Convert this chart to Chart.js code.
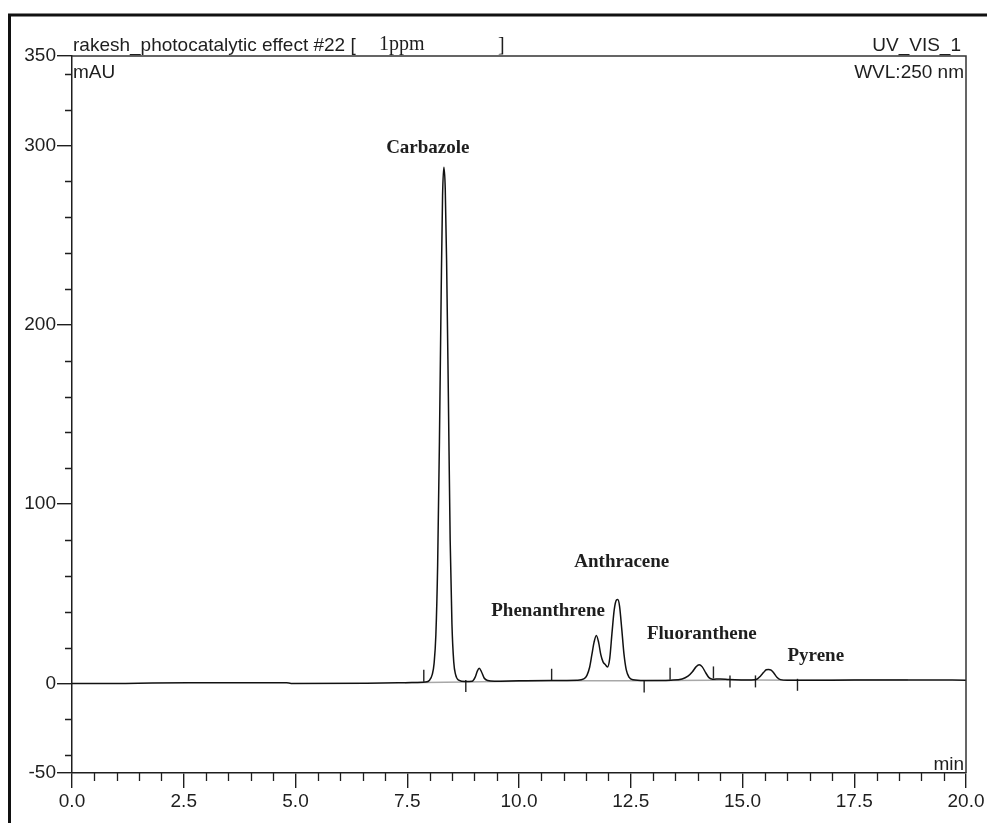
<!DOCTYPE html>
<html>
<head>
<meta charset="utf-8">
<script src="https://cdn.jsdelivr.net/npm/chart.js@4.4.1/dist/chart.umd.min.js"></script>
<style>
  html, body { margin: 0; padding: 0; background: #fff; }
  #c { display: block; }
</style>
</head>
<body>
<canvas id="c" width="987" height="823"></canvas>
<script>
// ---- data ----
const timeMin = [0.0, 1.0, 1.8, 2.6, 4.8, 4.9, 6.6, 7.3, 7.6, 7.9,
  8.00, 8.06, 8.10, 8.14, 8.18, 8.22, 8.26, 8.29, 8.32, 8.35, 8.38, 8.42, 8.46, 8.50, 8.54, 8.58, 8.65, 8.80,
  8.95, 9.02, 9.07, 9.11, 9.16, 9.22, 9.30, 9.45, 10.0, 10.7, 11.3,
  11.45, 11.52, 11.58, 11.63, 11.68, 11.73, 11.78, 11.83, 11.88, 11.93, 11.98,
  12.03, 12.08, 12.13, 12.18, 12.21, 12.25, 12.30, 12.35, 12.40, 12.46, 12.55, 12.8,
  13.4, 13.65, 13.78, 13.88, 13.96, 14.03, 14.10, 14.18, 14.25, 14.33, 14.5, 14.7,
  15.2, 15.32, 15.40, 15.47, 15.53, 15.58, 15.64, 15.70, 15.77, 15.85, 16.0,
  17.0, 18.0, 19.0, 20.0];
const absorbance = [0.0, 0.0, 0.2, 0.3, 0.3, 0.0, 0.1, 0.3, 0.5, 0.8,
  1.8, 5, 11, 27, 66, 135, 220, 272, 288, 276, 236, 160, 80, 33, 12, 5, 1.8, 1.0,
  1.2, 3.5, 7, 8.4, 6.5, 3, 1.6, 1.2, 1.4, 1.6, 1.8,
  2.5, 4.5, 9, 16, 23, 26.7, 23, 16, 12, 10.5, 9.2,
  14, 28, 41, 46.5, 46.8, 43, 30, 16, 7.5, 3.5, 2.0, 1.6,
  1.8, 2.4, 4, 6.5, 9.2, 10.4, 9.2, 5.8, 3.2, 2.3, 2.5, 2.2,
  1.9, 2.3, 4, 6, 7.6, 7.8, 7.4, 5.8, 3.4, 2.1, 1.8,
  1.8, 1.9, 1.9, 1.8];

// integration baseline (grey) and peak delimiter marks
const baseTime = [7.45, 7.87, 8.81, 10.73, 12.8, 13.38, 14.35, 14.72, 15.29, 16.23, 18.7];
const baseMAU  = [0.3, 0.5, 0.8, 1.4, 1.5, 1.6, 1.8, 1.9, 1.9, 1.8, 2.0];
const markTime = [7.87, 8.81, 10.73, 12.80, 13.38, 14.35, 14.72, 15.29, 16.23];
const markMAU  = [4.3, -1.5, 4.8, -1.7, 5.3, 6.1, 1.1, 1.1, -0.8];

// peak names and where they are written
const peakNames   = ['Carbazole', 'Phenanthrene', 'Anthracene', 'Fluoranthene', 'Pyrene'];
const peakLabelT  = [7.96, 10.65, 12.30, 14.09, 16.64];
const peakLabelY  = [298.6, 40.1, 67.4, 27.3, 15.0];

// axis ticks
const xMajorTicks = [0, 2.5, 5, 7.5, 10, 12.5, 15, 17.5, 20];
const yMajorTicks = [-50, 0, 100, 200, 300, 350];

const SANS = '"Liberation Sans", Arial, sans-serif';
const SERIF = '"Liberation Serif", "Times New Roman", serif';
const INK = '#1e1e1e';

const decor = {
  id: 'decor',
  beforeDraw(chart) {
    const ctx = chart.ctx;
    ctx.save();
    ctx.fillStyle = '#fff';
    ctx.fillRect(0, 0, chart.width, chart.height);
    // outer frame (top and left)
    ctx.strokeStyle = '#111';
    ctx.lineWidth = 3;
    ctx.beginPath();
    ctx.moveTo(8, 15); ctx.lineTo(chart.width, 15);
    ctx.moveTo(9.5, 15); ctx.lineTo(9.5, chart.height);
    ctx.stroke();
    ctx.restore();
  },
  afterDraw(chart) {
    const ctx = chart.ctx;
    const a = chart.chartArea;
    const xs = chart.scales.x, ys = chart.scales.y;
    ctx.save();
    // top and right frame of plot
    ctx.strokeStyle = '#333';
    ctx.lineWidth = 1.5;
    ctx.beginPath();
    ctx.moveTo(a.left, a.top); ctx.lineTo(a.right, a.top); ctx.lineTo(a.right, a.bottom);
    ctx.stroke();
    // minor ticks
    ctx.strokeStyle = INK;
    ctx.lineWidth = 1.3;
    ctx.beginPath();
    for (let v = 0.5; v < 20; v += 0.5) {
      if (Math.abs(v / 2.5 - Math.round(v / 2.5)) < 1e-6) continue;
      const px = Math.round(xs.getPixelForValue(v)) + 0.5;
      ctx.moveTo(px, a.bottom); ctx.lineTo(px, a.bottom + 8);
    }
    for (let v = -40; v < 350; v += 20) {
      if (v % 100 === 0) continue;
      const py = Math.round(ys.getPixelForValue(v)) + 0.5;
      ctx.moveTo(a.left, py); ctx.lineTo(a.left - 7, py);
    }
    ctx.stroke();
    // header texts
    ctx.fillStyle = INK;
    ctx.textBaseline = 'alphabetic';
    ctx.font = '19px ' + SANS;
    ctx.textAlign = 'left';
    ctx.fillText('rakesh_photocatalytic effect #22 [', a.left + 1, a.top - 5);
    ctx.fillText('mAU', a.left + 1, a.top + 22);
    ctx.font = '20px ' + SERIF;
    ctx.fillText('1ppm', a.left + 307, a.top - 6);
    ctx.fillText(']', a.left + 426, a.top - 5);
    ctx.font = '19px ' + SANS;
    ctx.textAlign = 'right';
    ctx.fillText('UV_VIS_1', a.right - 5, a.top - 5);
    ctx.fillText('WVL:250 nm', a.right - 2, a.top + 22);
    ctx.fillText('min', a.right - 2, a.bottom - 3);
    // peak names
    ctx.font = 'bold 19px ' + SERIF;
    ctx.textAlign = 'center';
    ctx.textBaseline = 'middle';
    peakNames.forEach((n, i) => {
      ctx.fillText(n, xs.getPixelForValue(peakLabelT[i]), ys.getPixelForValue(peakLabelY[i]));
    });
    ctx.restore();
  }
};

const trace = timeMin.map((t, i) => ({ x: t, y: absorbance[i] }));
const baseLine = baseTime.map((t, i) => ({ x: t, y: baseMAU[i] }));
const marks = markTime.map((t, i) => ({ x: t, y: markMAU[i] }));

new Chart(document.getElementById('c'), {
  type: 'line',
  data: {
    datasets: [
      { data: trace, borderColor: '#111', borderWidth: 1.5, pointRadius: 0,
        cubicInterpolationMode: 'monotone', fill: false },
      { data: marks, showLine: false, pointStyle: 'line', rotation: 90, pointRadius: 6,
        borderColor: '#222', borderWidth: 1.4, pointBorderColor: '#222', pointBorderWidth: 1.4 },
      { data: baseLine, borderColor: '#a8a8a8', borderWidth: 1.5, pointRadius: 0, fill: false }
    ]
  },
  options: {
    responsive: false,
    animation: false,
    devicePixelRatio: 1,
    layout: { padding: { left: 0, top: 56, right: 21, bottom: 0 } },
    plugins: { legend: { display: false }, tooltip: { enabled: false } },
    scales: {
      x: {
        type: 'linear', position: 'bottom', min: 0, max: 20,
        border: { display: true, color: INK, width: 1.5 },
        grid: { drawOnChartArea: false, drawTicks: true, tickLength: 15, color: INK, lineWidth: 1.4 },
        ticks: { color: INK, font: { family: SANS, size: 19 }, padding: 2, maxRotation: 0,
                 autoSkip: false, callback: v => Number(v).toFixed(1) },
        afterBuildTicks: s => { s.ticks = xMajorTicks.map(v => ({ value: v })); },
        afterFit: s => { s.height = 50; }
      },
      y: {
        type: 'linear', position: 'left', min: -50, max: 350,
        border: { display: true, color: INK, width: 1.5 },
        grid: { drawOnChartArea: false, drawTicks: true, tickLength: 15, color: INK, lineWidth: 1.4 },
        ticks: { color: INK, font: { family: SANS, size: 19 }, padding: 1,
                 autoSkip: false, callback: v => String(v) },
        afterBuildTicks: s => { s.ticks = yMajorTicks.map(v => ({ value: v })); },
        afterFit: s => { s.width = 72; }
      }
    }
  },
  plugins: [decor]
});
</script>
</body>
</html>
